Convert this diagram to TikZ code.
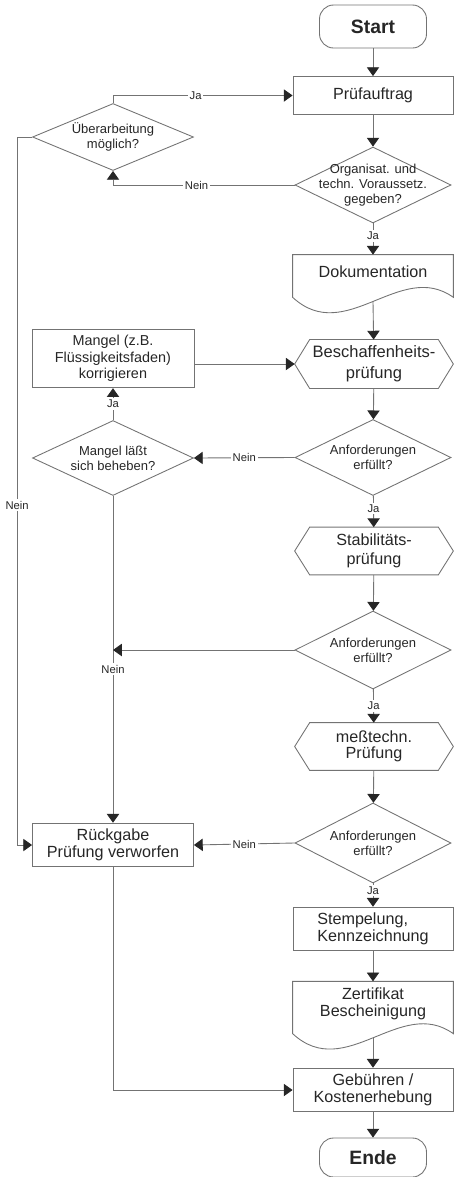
\documentclass[tikz,border=0pt]{standalone}
\usepackage{fontspec}
\setmainfont{Liberation Sans}
\usetikzlibrary{positioning,shapes.geometric,arrows.meta}
\tikzset{wire/.style={draw=black!55,line width=0.5pt}}
\tikzset{flow/.style={wire,-{Triangle[length=5pt,width=7pt,color=black!85]}}}
\tikzset{term/.style={wire,rounded corners=8pt,minimum width=2.14cm,minimum height=0.86cm,font=\bfseries\fontsize{11}{13}\selectfont}}
\tikzset{proc/.style={wire,rectangle,minimum width=3.2cm,minimum height=0.76cm,align=center,font=\fontsize{9.2}{9.6}\selectfont}}
\tikzset{dec/.style={wire,diamond,aspect=2,inner sep=-4pt,minimum width=3.12cm,minimum height=1.52cm,align=center,font=\fontsize{7.4}{8.5}\selectfont}}
\tikzset{hexa/.style={rectangle,minimum width=3.16cm,minimum height=0.94cm,align=center,font=\fontsize{9.2}{10.5}\selectfont}}
\tikzset{docu/.style={rectangle,minimum width=3.2cm,align=center,font=\fontsize{9.2}{9.6}\selectfont}}
\tikzset{lbl/.style={fill=white,inner sep=1pt,font=\fontsize{6.4}{7}\selectfont}}

\begin{document}
\begin{tikzpicture}[x=0.02cm,y=-0.02cm,every node/.style={text=black!85}]
  \useasboundingbox (0,0) rectangle (454,1177);

  % main column
  \node[term] (start) at (373,26.5) {Start};
  \node[proc] (pruef) at (373,95.5) {Prüfauftrag};
  \node[dec] (orga) at (373,185) {Organisat. und\\techn. Voraussetz.\\gegeben?};
  \node[docu,minimum height=0.68cm] (doku) at (373,272) {Dokumentation};
  \node[hexa,minimum height=0.92cm,font=\fontsize{9.4}{12}\selectfont] (besch) at (374,364) {Beschaffenheits-\\prüfung};
  \node[dec] (anf1) at (373,457.5) {Anforderungen\\erfüllt?};
  \node[hexa] (stab) at (374,551) {Stabilitäts-\\prüfung};
  \node[dec,minimum height=1.56cm] (anf2) at (373,650) {Anforderungen\\erfüllt?};
  \node[hexa,font=\fontsize{9.2}{9}\selectfont] (mess) at (374,746.5) {meßtechn.\\Prüfung};
  \node[dec,minimum height=1.6cm] (anf3) at (373,843) {Anforderungen\\erfüllt?};
  \node[proc,align=left] (stemp) at (373,929) {Stempelung,\\Kennzeichnung};
  \node[docu,minimum height=0.86cm] (zert) at (373,1003.5) {Zertifikat\\Bescheinigung};
  \node[proc,minimum height=0.8cm] (geb) at (373,1090) {Gebühren /\\Kostenerhebung};
  \node[term,minimum height=0.78cm] (ende) at (373,1157.5) {Ende};

  % left column
  \node[dec,minimum width=3.22cm,minimum height=1.34cm] (ueber) at (113,137) {Überarbeitung\\möglich?};
  \node[proc,minimum width=3.24cm,minimum height=1.14cm,font=\fontsize{8.2}{9.5}\selectfont] (mangel) at (113,358.5) {Mangel (z.B.\\Flüssigkeitsfaden)\\korrigieren};
  \node[dec,minimum width=3.22cm,minimum height=1.5cm] (behebt) at (113,458) {Mangel läßt\\sich beheben?};
  \node[proc,minimum width=3.22cm,minimum height=0.8cm] (rueck) at (113,845) {Rückgabe\\Prüfung verworfen};

  % outlines of hexagons and documents
  \foreach \n in {besch,stab,mess}
    \draw[wire] (\n.west) -- ([xshift=0.3cm]\n.north west) -- ([xshift=-0.3cm]\n.north east)
      -- (\n.east) -- ([xshift=-0.3cm]\n.south east) -- ([xshift=0.3cm]\n.south west) -- cycle;
  \foreach \n in {doku,zert}
    \draw[wire] (\n.north west) -- (\n.north east) -- ([yshift=-0.16cm]\n.south east)
      .. controls +(-53,-38) and +(53,49) .. ([yshift=-0.16cm]\n.south west) -- cycle;

  % main flow
  \draw[flow] (start) -- (pruef);
  \draw[flow] (pruef) -- (orga);
  \draw[flow] (orga) -- node[lbl,pos=0.4] {Ja} (doku);
  \draw[flow] ([yshift=-0.24cm]doku.south) -- (besch);
  \draw[flow] (besch) -- (anf1);
  \draw[flow] (anf1) -- node[lbl,pos=0.4] {Ja} (stab);
  \draw[flow] (stab) -- (anf2);
  \draw[flow] (anf2) -- node[lbl] {Ja} (mess);
  \draw[flow] (mess) -- (anf3);
  \draw[flow] (anf3) -- node[lbl,pos=0.3] {Ja} (stemp);
  \draw[flow] (stemp) -- (zert);
  \draw[flow] ([yshift=-0.24cm]zert.south) -- (geb);
  \draw[flow] (geb) -- (ende);

  % side branches
  \draw[flow] (ueber.north) |- node[lbl,pos=0.73] {Ja} (pruef.west);
  \draw[flow] (orga.west) -| node[lbl,pos=0.27] {Nein} (ueber.south);
  \draw[flow] (ueber.west) -- ++(-15,0) |- node[lbl,pos=0.26] {Nein} (rueck.west);
  \draw[flow] (behebt) -- node[lbl] {Ja} (mangel);
  \draw[flow] (mangel.east |- besch.west) -- (besch.west);
  \draw[flow] (anf1.west) -- node[lbl] {Nein} (behebt.east);
  \draw[flow] (behebt.south) -- node[lbl,pos=0.53] {Nein} (rueck.north);
  \draw[flow] (anf2.west) -- (behebt.south |- anf2.west);
  \draw[flow] (anf3.west) -- node[lbl] {Nein} (rueck.east);
  \draw[flow] (rueck.south) |- (geb.west);
\end{tikzpicture}
\end{document}
